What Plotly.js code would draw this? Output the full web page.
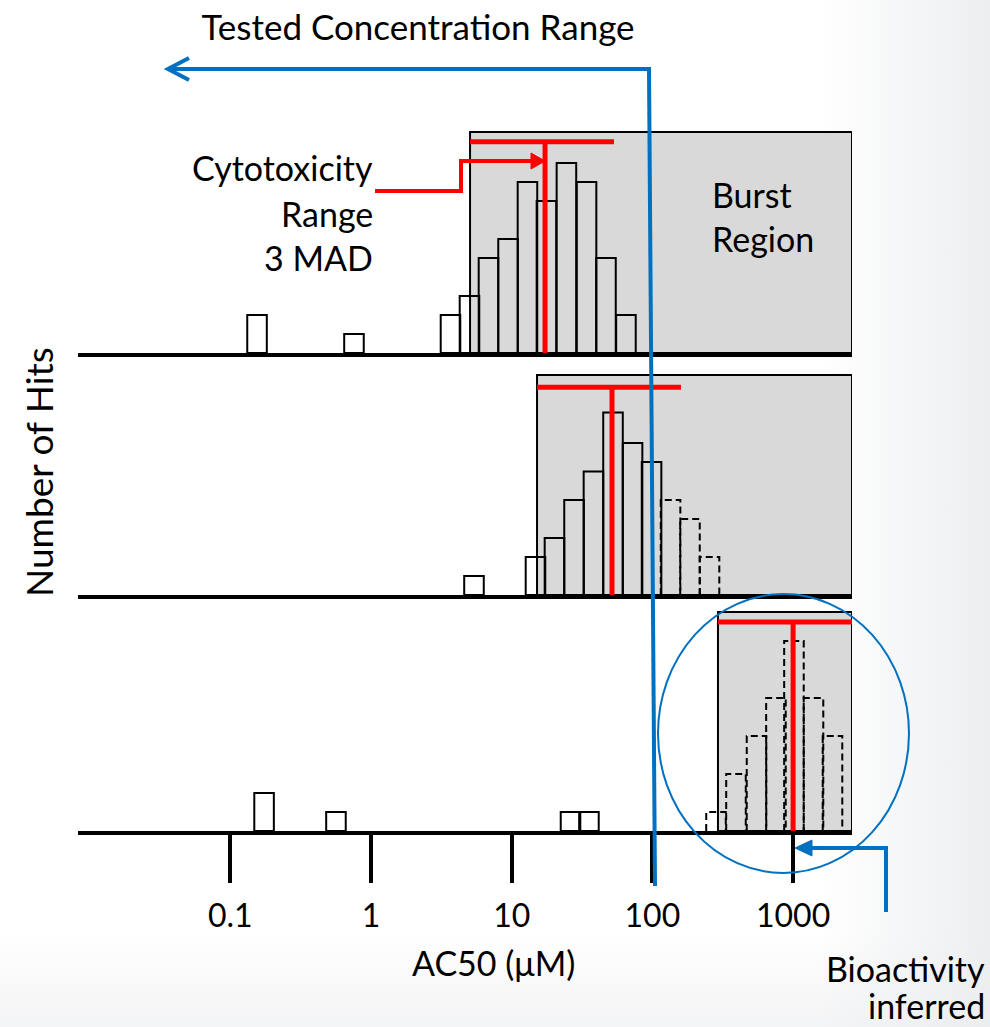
<!DOCTYPE html>
<html>
<head>
<meta charset="utf-8">
<script src="https://cdn.plot.ly/plotly-3.0.1.min.js"></script>
<style>
  html, body { margin: 0; padding: 0; }
  body {
    width: 990px; height: 1027px; overflow: hidden;
    background:
      linear-gradient(to bottom, rgba(255,255,255,0) 0px, rgba(255,255,255,0) 930px, rgba(236,237,239,0.6) 1027px),
      linear-gradient(to right, #ffffff 0px, #ffffff 820px, #eceef0 990px);
  }
  #chart { width: 990px; height: 1027px; }
</style>
</head>
<body>
<div id="chart"></div>
<script>
// ---- data (x values are log10 of AC50 in µM) ----
const tickValues = [-1, 0, 1, 2, 3];
const tickLabels = ['0.1', '1', '10', '100', '1000'];
const binWidth = 0.139;

const panel1Centers = [-0.810, -0.121, 0.565, 0.700, 0.835, 0.974, 1.112, 1.247, 1.389, 1.532, 1.670, 1.812];
const panel1Counts  = [2, 1, 2, 3, 5, 6, 9, 8, 10, 9, 5, 2];

const panel2SolidCenters  = [0.732, 1.169, 1.304, 1.443, 1.581, 1.720, 1.859, 1.994];
const panel2SolidCounts   = [1, 2, 3, 5, 6.5, 9.6, 8, 7];
const panel2DashedCenters = [2.129, 2.267, 2.406];
const panel2DashedCounts  = [5, 4, 2];

const panel3SolidCenters  = [-0.760, -0.249, 1.418, 1.549];
const panel3SolidCounts   = [2, 1, 1, 1];
const panel3DashedCenters = [2.452, 2.594, 2.740, 2.878, 3.006, 3.145, 3.280];
const panel3DashedCounts  = [1, 3, 5, 7, 10, 7, 5];

// cytotoxicity median and +/- 3 MAD range per panel (log10 µM)
const cytoLow    = [0.704, 1.180, 2.466];
const cytoMedian = [1.237, 1.713, 3.000];
const cytoHigh   = [1.727, 2.203, 3.530];
const cytoLevel  = [11.12, 10.93, 11.00];

// ---- layout helpers ----
const xRange = [-2.0824, 3.4186];
const yTops = [11.63, 11.58, 11.53];
const L = 78, R = 852, T = 132, B = 831;
const fx = px => (px - L) / (R - L);
const fy = py => (B - py) / (B - T);
const FONT = 'Lato, Carlito, Calibri, "Open Sans", sans-serif';
const BLUE = '#0070c0', RED = '#ff0000';

function dashedOutline(centers, counts, w) {
  const xs = [], ys = [];
  centers.forEach((c, i) => {
    const a = c - w / 2, b = c + w / 2, h = counts[i];
    xs.push(a, a, b, b, null);
    ys.push(0, h, h, 0, null);
  });
  return {x: xs, y: ys};
}

const axesIds = [['x', 'y'], ['x2', 'y2'], ['x3', 'y3']];
const traces = [];

function solidBars(centers, counts, k) {
  traces.push({
    type: 'bar', x: centers, y: counts, width: binWidth,
    xaxis: axesIds[k][0], yaxis: axesIds[k][1],
    marker: {color: 'rgba(0,0,0,0)', line: {color: 'black', width: 2}},
    hoverinfo: 'skip', showlegend: false
  });
}
function dashedBars(centers, counts, k) {
  const o = dashedOutline(centers, counts, binWidth);
  traces.push({
    type: 'scatter', mode: 'lines', x: o.x, y: o.y,
    xaxis: axesIds[k][0], yaxis: axesIds[k][1],
    line: {color: 'black', width: 2, dash: '7px,4px'},
    hoverinfo: 'skip', showlegend: false
  });
}
function cytoT(k) {
  traces.push({
    type: 'scatter', mode: 'lines',
    x: [cytoLow[k], cytoHigh[k], null, cytoMedian[k], cytoMedian[k]],
    y: [cytoLevel[k], cytoLevel[k], null, cytoLevel[k], 0],
    xaxis: axesIds[k][0], yaxis: axesIds[k][1],
    line: {color: RED, width: 5},
    hoverinfo: 'skip', showlegend: false
  });
}

solidBars(panel1Centers, panel1Counts, 0);
cytoT(0);
solidBars(panel2SolidCenters, panel2SolidCounts, 1);
dashedBars(panel2DashedCenters, panel2DashedCounts, 1);
cytoT(1);
solidBars(panel3SolidCenters, panel3SolidCounts, 2);
dashedBars(panel3DashedCenters, panel3DashedCounts, 2);
cytoT(2);

const baseX = {
  range: xRange, showline: true, linewidth: 4, linecolor: 'black',
  showgrid: false, zeroline: false, showticklabels: false, ticks: '', fixedrange: true
};
const baseY = {visible: false, showgrid: false, zeroline: false, fixedrange: true};

const shapes = [];
// burst regions
axesIds.forEach((ids, k) => {
  shapes.push({
    type: 'rect', layer: 'below', xref: ids[0], yref: ids[1] + ' domain',
    x0: cytoLow[k], x1: xRange[1], y0: 0, y1: 1,
    fillcolor: '#d9d9d9', line: {color: 'black', width: 2}
  });
});
// tested concentration range (blue)
shapes.push({type: 'line', xref: 'paper', yref: 'paper',
  x0: fx(649), y0: fy(69), x1: fx(655), y1: fy(886), line: {color: BLUE, width: 4}});
shapes.push({type: 'path', xref: 'paper', yref: 'paper',
  path: `M ${fx(651)},${fy(69)} L ${fx(169)},${fy(69)}`, line: {color: BLUE, width: 4}});
shapes.push({type: 'path', xref: 'paper', yref: 'paper',
  path: `M ${fx(189)},${fy(58)} L ${fx(168)},${fy(69)} L ${fx(189)},${fy(80)}`, line: {color: BLUE, width: 4}});
// circle
shapes.push({type: 'circle', xref: 'paper', yref: 'paper',
  x0: fx(658), x1: fx(909), y0: fy(873), y1: fy(594), line: {color: BLUE, width: 2}});
// bioactivity arrow
shapes.push({type: 'path', xref: 'paper', yref: 'paper',
  path: `M ${fx(886)},${fy(912)} L ${fx(886)},${fy(848)} L ${fx(808)},${fy(848)}`, line: {color: BLUE, width: 4}});
shapes.push({type: 'path', xref: 'paper', yref: 'paper',
  path: `M ${fx(795)},${fy(848)} L ${fx(812)},${fy(840)} L ${fx(812)},${fy(856)} Z`,
  fillcolor: BLUE, line: {color: BLUE, width: 1}});
// cytotoxicity arrow (red)
shapes.push({type: 'path', xref: 'paper', yref: 'paper',
  path: `M ${fx(375)},${fy(191)} L ${fx(461)},${fy(191)} L ${fx(461)},${fy(161)} L ${fx(533)},${fy(161)}`,
  line: {color: RED, width: 4}});
shapes.push({type: 'path', xref: 'paper', yref: 'paper',
  path: `M ${fx(545)},${fy(161)} L ${fx(531)},${fy(153)} L ${fx(531)},${fy(169)} Z`,
  fillcolor: RED, line: {color: RED, width: 1}});

function ann(text, px, py, xanchor, size, extra) {
  return Object.assign({
    text: text, xref: 'paper', yref: 'paper', x: fx(px), y: fy(py),
    xanchor: xanchor || 'center', yanchor: 'middle', showarrow: false,
    font: {family: FONT, size: size || 34, color: 'black'}
  }, extra || {});
}

const annotations = [
  ann('Number of Hits', 38, 472, 'center', 37, {textangle: -90}),
  ann('AC50 (μM)', 493, 962, 'center', 34),
  ann('Cytotoxicity', 375, 167, 'right', 34),
  ann('Range', 375, 213, 'right', 34),
  ann('3 MAD', 375, 257, 'right', 34),
  ann('Burst', 710, 194, 'left', 34),
  ann('Region', 710, 238, 'left', 34),
  ann('Bioactivity', 987, 968, 'right', 34),
  ann('inferred', 987, 1005, 'right', 34)
];

const layout = {
  width: 990, height: 1027,
  margin: {l: L, r: 990 - R, t: T, b: 1027 - B},
  paper_bgcolor: 'rgba(0,0,0,0)', plot_bgcolor: 'rgba(0,0,0,0)',
  font: {family: FONT, size: 34, color: 'black'},
  showlegend: false, barmode: 'overlay',
  title: {text: 'Tested Concentration Range', x: 418 / 990, y: 1 - 28 / 1027,
    xref: 'container', yref: 'container', xanchor: 'center', yanchor: 'middle',
    font: {family: FONT, size: 35, color: 'black'}},
  xaxis: Object.assign({}, baseX, {anchor: 'y'}),
  xaxis2: Object.assign({}, baseX, {anchor: 'y2', matches: 'x'}),
  xaxis3: Object.assign({}, baseX, {anchor: 'y3', matches: 'x',
    ticks: 'outside', ticklen: 48, tickwidth: 4, tickcolor: 'black',
    tickmode: 'array', tickvals: tickValues, ticktext: tickLabels,
    showticklabels: true, ticklabelstandoff: 6,
    tickfont: {family: FONT, size: 32, color: 'black'}}),
  yaxis: Object.assign({}, baseY, {domain: [fy(353), 1], range: [0, yTops[0]]}),
  yaxis2: Object.assign({}, baseY, {domain: [fy(595), fy(375)], range: [0, yTops[1]]}),
  yaxis3: Object.assign({}, baseY, {domain: [0, fy(612)], range: [0, yTops[2]]}),
  shapes: shapes,
  annotations: annotations
};

Plotly.newPlot('chart', traces, layout, {staticPlot: true, displayModeBar: false});
</script>
</body>
</html>
